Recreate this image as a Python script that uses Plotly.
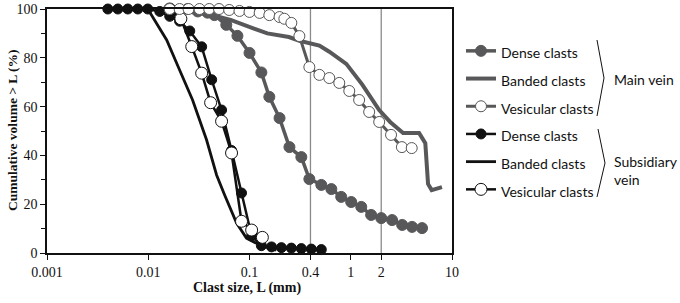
import plotly.graph_objects as go

# ---------------- data ----------------
# Main vein
main_dense_L = [0.0245, 0.0308, 0.0385, 0.045, 0.059, 0.076, 0.100, 0.131, 0.157, 0.198, 0.248,
                0.325, 0.39, 0.512, 0.643, 0.805, 1.01, 1.27, 1.59, 2.0, 2.56, 3.22, 4.03, 5.06]
main_dense_V = [100, 99, 98.5, 97.5, 93.5, 89, 82, 74, 64, 55.3, 43.4,
                39.3, 30.3, 27.9, 26.2, 23, 20.9, 18.9, 15.6, 14.3, 13.5, 11.5, 10.7, 10.2]

main_banded_L = [0.0163, 0.0204, 0.0321, 0.0431, 0.0650, 0.100, 0.150, 0.245, 0.311, 0.49, 0.614,
                 0.904, 1.30, 1.91, 2.45, 3.29, 4.73, 5.45, 5.80, 6.30, 7.96]
main_banded_V = [100, 99.5, 98.5, 97.5, 95.5, 92.6, 90, 88.5, 87, 85, 82.5,
                 77.5, 69, 58.6, 53.7, 49.2, 49.2, 45, 28.3, 25.8, 27]

main_vesic_L = [0.0163, 0.0204, 0.0250, 0.0321, 0.0400, 0.0500, 0.0630, 0.0796, 0.100, 0.126, 0.157,
                0.198, 0.221, 0.259, 0.311, 0.39, 0.49, 0.614, 0.77, 0.967, 1.21, 1.52, 1.91, 2.5,
                3.2, 4.0]
main_vesic_V = [100, 100, 100, 100, 100, 100, 99.6, 99.2, 98.8, 98.4, 97.5,
                96.7, 96.0, 94.3, 88.9, 76.2, 73, 71.7, 69.7, 66.4, 62.7, 57.8, 53.7, 48.4,
                43.4, 43]

# Subsidiary vein
sub_dense_L = [0.00399, 0.00501, 0.00628, 0.00789, 0.00989, 0.0130, 0.0163, 0.0204, 0.0257, 0.0337,
               0.0423, 0.0530, 0.0665, 0.0834, 0.105, 0.131, 0.165, 0.2065, 0.259, 0.325, 0.408, 0.512]
sub_dense_V = [100, 100, 100, 100, 100, 99, 97, 95, 91, 84.5,
               71, 58.6, 42, 24.6, 7, 3, 2.5, 2.2, 2, 1.8, 1.6, 1.4]

sub_banded_L = [0.0099, 0.0116, 0.0152, 0.0204, 0.0274, 0.0377, 0.0473, 0.0568, 0.0745, 0.0933,
                0.126, 0.1845]
sub_banded_V = [100, 95.5, 87.3, 75, 62.7, 46.3, 32, 23.8, 12.3, 6.1, 3.3, 1.2]

sub_vesic_L = [0.0163, 0.0210, 0.0269, 0.0337, 0.0413, 0.0530, 0.0665, 0.0834, 0.105, 0.134]
sub_vesic_V = [100, 96, 84.6, 73.7, 61.6, 54, 41, 13, 9.4, 6.4]

x_tickvals = [0.001, 0.01, 0.1, 0.4, 1, 2, 10]
x_ticktext = ["0.001", "0.01", "0.1", "0.4", "1", "2", "10"]
x_gridlines = [0.4, 2]
y_tickvals = [0, 20, 40, 60, 80, 100]

GRAY = "#58585a"
BLACK = "#111111"

def lbl(t):
    return '<span style="font-size:14px">' + t + '</span>'

fig = go.Figure()

# draw subsidiary first (underneath), main on top
fig.add_trace(go.Scatter(x=sub_dense_L, y=sub_dense_V, mode="lines+markers", name=lbl("Dense clasts"),
                         line=dict(color=BLACK, width=2.5),
                         marker=dict(symbol="circle", size=10, color=BLACK, line=dict(color=BLACK, width=1)),
                         legendrank=4, cliponaxis=False))
fig.add_trace(go.Scatter(x=sub_banded_L, y=sub_banded_V, mode="lines", name=lbl("Banded clasts"),
                         line=dict(color=BLACK, width=2.8), legendrank=5, cliponaxis=False))
fig.add_trace(go.Scatter(x=sub_vesic_L, y=sub_vesic_V, mode="lines+markers", name=lbl("Vesicular clasts"),
                         line=dict(color=BLACK, width=2.5),
                         marker=dict(symbol="circle", size=12, color="white", line=dict(color=BLACK, width=1)),
                         legendrank=6, cliponaxis=False))
fig.add_trace(go.Scatter(x=main_dense_L, y=main_dense_V, mode="lines+markers", name=lbl("Dense clasts"),
                         line=dict(color=GRAY, width=3.5),
                         marker=dict(symbol="circle", size=11, color=GRAY, line=dict(color=GRAY, width=1)),
                         legendrank=1, cliponaxis=False))
fig.add_trace(go.Scatter(x=main_banded_L, y=main_banded_V, mode="lines", name=lbl("Banded clasts"),
                         line=dict(color=GRAY, width=4), legendrank=2, cliponaxis=False))
fig.add_trace(go.Scatter(x=main_vesic_L, y=main_vesic_V, mode="lines+markers", name=lbl("Vesicular clasts"),
                         line=dict(color=GRAY, width=3),
                         marker=dict(symbol="circle", size=11, color="white", line=dict(color=GRAY, width=1)),
                         legendrank=3, cliponaxis=False))

for xv in x_gridlines:
    fig.add_vline(x=xv, line=dict(color="#8a8a8a", width=1.3), layer="below")

W, H = 680, 303
L, T = 47, 9
R = W - 452
B = H - 253
pw, ph = W - L - R, H - T - B

def px(xp):
    return (xp - L) / pw

def py(yp):
    return (H - B - yp) / ph

# braces
fig.add_shape(type="path", xref="paper", yref="paper",
              path=f"M {px(597)} {py(40)} L {px(604)} {py(78)} L {px(597)} {py(116)}",
              line=dict(color=BLACK, width=1))
fig.add_shape(type="path", xref="paper", yref="paper",
              path=f"M {px(598)} {py(129)} L {px(605)} {py(163)} L {px(597)} {py(197)}",
              line=dict(color=BLACK, width=1))

fig.add_annotation(text="Main vein", xref="paper", yref="paper", x=px(612), y=py(79),
                   xanchor="left", yanchor="middle", showarrow=False,
                   font=dict(family="Lato", size=14, color=BLACK))
fig.add_annotation(text="Subsidiary<br>vein", xref="paper", yref="paper", x=px(612), y=py(170),
                   xanchor="left", yanchor="middle", showarrow=False, align="left",
                   font=dict(family="Lato", size=14, color=BLACK))

# axis titles
fig.add_annotation(text="<b>Cumulative volume > L (%)</b>", xref="paper", yref="paper",
                   x=px(12), y=py(131), textangle=-90, showarrow=False,
                   xanchor="center", yanchor="middle",
                   font=dict(family="Liberation Serif", size=13.5, color=BLACK))
fig.add_annotation(text="<b>Clast size, L (mm)</b>", xref="paper", yref="paper",
                   x=px(247), y=py(288), showarrow=False,
                   xanchor="center", yanchor="middle",
                   font=dict(family="Liberation Serif", size=14, color=BLACK))

fig.update_xaxes(type="log", range=[-3, 1], tickvals=x_tickvals, ticktext=x_ticktext,
                 showgrid=False, zeroline=False, showline=True, linecolor=BLACK, linewidth=1.5,
                 mirror=True, ticks="outside", ticklen=5, tickcolor=BLACK, tickwidth=1.2,
                 tickfont=dict(family="Liberation Serif", size=14, color=BLACK))
fig.update_yaxes(range=[0, 100], tickvals=y_tickvals, showgrid=False, zeroline=False,
                 showline=True, linecolor=BLACK, linewidth=1.5, mirror=True,
                 ticks="outside", ticklen=5, tickcolor=BLACK, tickwidth=1.2,
                 minor=dict(dtick=10, ticks="outside", ticklen=4, tickcolor=BLACK, tickwidth=1),
                 tickfont=dict(family="Liberation Serif", size=14, color=BLACK))

fig.update_layout(
    width=W, height=H, margin=dict(l=L, r=R, t=T, b=B, autoexpand=False),
    plot_bgcolor="white", paper_bgcolor="white",
    showlegend=True,
    legend=dict(x=px(461), y=py(32), xanchor="left", yanchor="top",
                font=dict(family="Lato", size=19, color=BLACK),
                itemwidth=30, tracegroupgap=0, bgcolor="rgba(0,0,0,0)",
                traceorder="normal"),
)

fig.write_html("out.html", config={"displayModeBar": False},
               post_script="document.body.style.margin='0px';")
